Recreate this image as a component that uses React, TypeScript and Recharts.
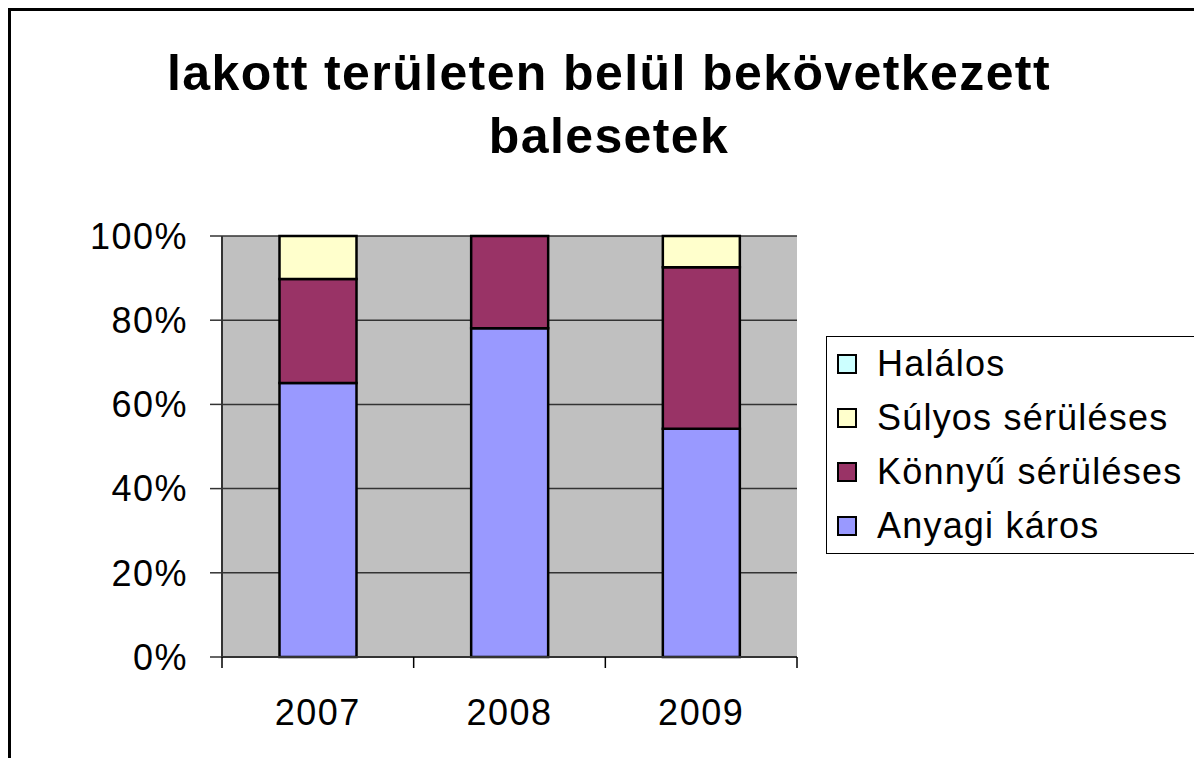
import React from 'react';
import { BarChart, Bar, XAxis, YAxis, CartesianGrid, Legend } from 'recharts';

const years = ['2007', '2008', '2009'];
const anyagiKaros = [65.1, 78.1, 54.2];
const konnyuSeruleses = [24.7, 21.9, 38.4];
const sulyosSeruleses = [10.2, 0, 7.4];
const halalos = [0, 0, 0];
const yTicks = [0, 0.2, 0.4, 0.6, 0.8, 1];
const titleLines = ['lakott területen belül bekövetkezett', 'balesetek'];

const seriesDefs = [
  { key: 'anyagi', name: 'Anyagi káros', color: '#9999FF', values: anyagiKaros },
  { key: 'konnyu', name: 'Könnyű sérüléses', color: '#993366', values: konnyuSeruleses },
  { key: 'sulyos', name: 'Súlyos sérüléses', color: '#FFFFCC', values: sulyosSeruleses },
  { key: 'halalos', name: 'Halálos', color: '#CCFFFF', values: halalos },
];

const data = years.map((y, i) => {
  const row: Record<string, string | number> = { year: y };
  seriesDefs.forEach((s) => {
    row[s.key] = s.values[i];
  });
  return row;
});

const FONT = '"Liberation Sans", Arial, sans-serif';
const X_TICK_SIZE = 11;
const X_TICK_MARGIN = 31;

const XTick = (props: any) => {
  const { x, y, payload, index, visibleTicksCount } = props;
  const half = payload && payload.offset ? payload.offset : 0;
  const axisY = y - X_TICK_SIZE - X_TICK_MARGIN;
  const lineStyle = { stroke: '#000', strokeWidth: 1.5 };
  return (
    <g>
      <line x1={x - half} x2={x - half} y1={axisY} y2={axisY + X_TICK_SIZE} {...lineStyle} />
      {index === visibleTicksCount - 1 && (
        <line x1={x + half} x2={x + half} y1={axisY} y2={axisY + X_TICK_SIZE} {...lineStyle} />
      )}
      <text
        x={x}
        y={y}
        dy="0.71em"
        textAnchor="middle"
        fill="#000"
        fontFamily={FONT}
        fontSize={36}
        letterSpacing={1.5}
      >
        {payload.value}
      </text>
    </g>
  );
};

const LegendBox = () => (
  <div
    style={{
      width: 369,
      height: 218,
      border: '1px solid #000',
      boxSizing: 'border-box',
      background: '#fff',
      display: 'flex',
      flexDirection: 'column',
      justifyContent: 'center',
      paddingLeft: 10,
    }}
  >
    {[...seriesDefs].reverse().map((s) => (
      <div
        key={s.key}
        style={{
          display: 'flex',
          alignItems: 'center',
          height: 54.5,
          fontFamily: FONT,
          fontSize: 36,
          letterSpacing: 1.2,
          color: '#000',
          whiteSpace: 'nowrap',
        }}
      >
        <span
          style={{
            display: 'block',
            width: 20,
            minWidth: 20,
            height: 20,
            boxSizing: 'border-box',
            border: '2px solid #000',
            background: s.color,
            marginRight: 20,
            flex: 'none',
          }}
        />
        <span>{s.name}</span>
      </div>
    ))}
  </div>
);

const pct = (v: number) => `${Math.round(v * 100)}%`;

export default function App() {
  return (
    <div style={{ position: 'relative', width: 1194, height: 750, background: '#fff' }}>
      <div
        style={{
          position: 'absolute',
          left: 0,
          top: 0,
          width: 1194,
          height: 750,
          borderTop: '3px solid #000',
          borderLeft: '3px solid #000',
          boxSizing: 'border-box',
          pointerEvents: 'none',
          zIndex: 2,
        }}
      />
      <div
        style={{
          position: 'absolute',
          left: 4,
          top: 34,
          width: 1194,
          textAlign: 'center',
          fontFamily: FONT,
          fontWeight: 'bold',
          fontSize: 50,
          letterSpacing: 1.4,
          lineHeight: '63px',
          color: '#000',
          zIndex: 1,
        }}
      >
        {titleLines.map((t) => (
          <div key={t}>{t}</div>
        ))}
      </div>
      <BarChart
        width={1194}
        height={750}
        data={data}
        stackOffset="expand"
        barCategoryGap="30%"
        margin={{ top: 228, left: 114, right: 405, bottom: 41 }}
      >
        <CartesianGrid vertical={false} fill="#C0C0C0" stroke="#333" strokeWidth={1.5} />
        <XAxis
          dataKey="year"
          height={60}
          tickLine={false}
          tickSize={X_TICK_SIZE}
          tickMargin={X_TICK_MARGIN}
          axisLine={{ stroke: '#333', strokeWidth: 2 }}
          tick={<XTick />}
        />
        <YAxis
          width={100}
          domain={[0, 1]}
          ticks={yTicks}
          tickFormatter={pct}
          axisLine={{ stroke: '#333', strokeWidth: 2 }}
          tickLine={{ stroke: '#333', strokeWidth: 1.5 }}
          tickSize={12}
          tickMargin={22}
          tick={{ fill: '#000', fontFamily: FONT, fontSize: 36, letterSpacing: 1.5 }}
        />
        <YAxis
          yAxisId="right"
          orientation="right"
          width={0}
          domain={[0, 1]}
          tick={false}
          tickLine={false}
          axisLine={{ stroke: '#808080', strokeWidth: 2 }}
        />
        <Legend
          layout="vertical"
          align="center"
          verticalAlign="middle"
          content={() => <LegendBox />}
          wrapperStyle={{ position: 'absolute', left: 818, top: 328, width: 369, height: 218 }}
        />
        {seriesDefs.map((s) => (
          <Bar
            key={s.key}
            dataKey={s.key}
            name={s.name}
            stackId="a"
            fill={s.color}
            stroke="#000"
            strokeWidth={2.5}
            isAnimationActive={false}
          />
        ))}
      </BarChart>
    </div>
  );
}
